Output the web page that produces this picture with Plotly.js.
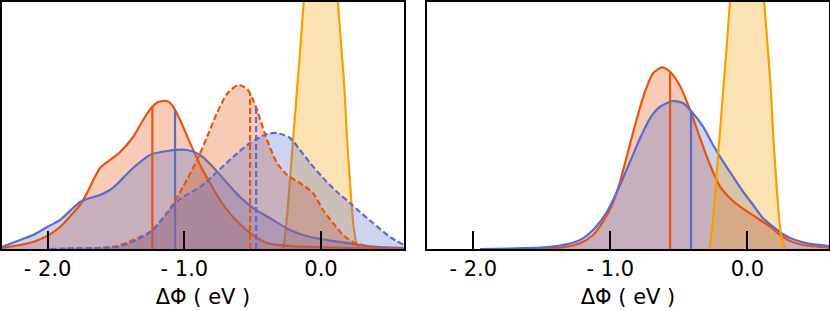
<!DOCTYPE html>
<html>
<head>
<meta charset="utf-8">
<script src="https://cdn.plot.ly/plotly-3.0.1.min.js"></script>
<style>
html,body{margin:0;padding:0;background:#fff;}
#chart{width:830px;height:311px;}
</style>
</head>
<body>
<div id="chart"></div>
<script>
// ---------- data (ΔΦ in eV, density in arbitrary units) ----------
// Left panel
const leftSolidOrangeX = [-2.334,-2.202,-2.107,-2.004,-1.909,-1.814,-1.763,-1.712,-1.617,-1.544,-1.470,-1.375,-1.302,-1.236,-1.192,-1.127,-1.090,-1.031,-0.958,-0.885,-0.812,-0.739,-0.644,-0.519,-0.395,-0.227,-0.029,0.212,0.607];
const leftSolidOrangeY = [0.01,0.04,0.07,0.13,0.22,0.36,0.44,0.56,0.81,0.89,0.97,1.12,1.29,1.42,1.47,1.48,1.44,1.29,1.06,0.84,0.66,0.49,0.32,0.16,0.06,0.03,0.02,0.01,0.005];

const leftSolidBlueX = [-2.334,-2.202,-2.107,-2.004,-1.909,-1.814,-1.763,-1.712,-1.617,-1.544,-1.492,-1.375,-1.251,-1.127,-0.980,-0.885,-0.790,-0.688,-0.593,-0.497,-0.351,-0.227,-0.080,0.088,0.337,0.607];
const leftSolidBlueY = [0.02,0.09,0.14,0.22,0.29,0.41,0.47,0.50,0.54,0.59,0.65,0.81,0.94,0.98,0.99,0.94,0.82,0.66,0.52,0.41,0.29,0.19,0.12,0.08,0.03,0.01];

const leftDashOrangeX = [-1.858,-1.617,-1.492,-1.375,-1.251,-1.127,-1.010,-0.907,-0.834,-0.761,-0.688,-0.607,-0.541,-0.497,-0.461,-0.395,-0.322,-0.249,-0.154,-0.059,0.015,0.088,0.161,0.234,0.380,0.607];
const leftDashOrangeY = [0.005,0.01,0.03,0.09,0.17,0.36,0.62,0.89,1.12,1.36,1.55,1.64,1.60,1.49,1.36,1.09,0.86,0.74,0.66,0.56,0.39,0.26,0.14,0.07,0.015,0.005];

const leftDashBlueX = [-1.982,-1.858,-1.617,-1.492,-1.397,-1.324,-1.229,-1.127,-1.031,-0.885,-0.761,-0.644,-0.519,-0.395,-0.322,-0.227,-0.154,-0.080,0.015,0.117,0.212,0.285,0.380,0.505,0.607];
const leftDashBlueY = [0,0.005,0.01,0.02,0.06,0.11,0.19,0.36,0.50,0.62,0.77,0.92,1.06,1.15,1.16,1.11,0.99,0.86,0.71,0.57,0.46,0.37,0.26,0.12,0.04];

// Reference (gold) distribution, same in both panels
const refX = [-0.294,-0.277,-0.265,-0.248,-0.228,-0.212,-0.194,-0.175,-0.155,-0.126,-0.090,-0.053,0.0,0.049,0.086,0.122,0.153,0.171,0.190,0.215,0.239,0.263,0.282];
const refY = [0,0.007,0.12,0.34,0.67,0.97,1.27,1.61,1.94,2.49,3.1,3.6,3.9,3.6,3.1,2.49,1.94,1.61,1.11,0.61,0.21,0.04,0];

// Right panel
const rightOrangeX = [-1.659,-1.513,-1.367,-1.221,-1.126,-1.053,-0.988,-0.929,-0.871,-0.805,-0.747,-0.688,-0.623,-0.564,-0.491,-0.418,-0.345,-0.272,-0.199,-0.126,-0.053,0.020,0.093,0.166,0.239,0.312,0.407,0.597];
const rightOrangeY = [0,0.007,0.013,0.057,0.14,0.273,0.44,0.673,0.973,1.31,1.573,1.757,1.817,1.773,1.63,1.39,1.11,0.84,0.623,0.507,0.423,0.357,0.29,0.223,0.14,0.08,0.04,0.013];

const rightBlueX = [-1.951,-1.732,-1.513,-1.367,-1.221,-1.126,-1.024,-0.929,-0.856,-0.783,-0.710,-0.637,-0.542,-0.469,-0.406,-0.323,-0.250,-0.177,-0.104,-0.031,0.042,0.115,0.188,0.261,0.334,0.436,0.597];
const rightBlueY = [0,0.005,0.013,0.033,0.09,0.19,0.373,0.64,0.873,1.107,1.307,1.423,1.48,1.457,1.373,1.223,1.04,0.873,0.723,0.573,0.44,0.307,0.223,0.147,0.097,0.057,0.03];

// Mean markers (x position, height)
const leftSolidMeanX = [-1.234, -1.068];
const leftSolidMeanTop = [1.43, 1.39];
const leftDashMeanX = [-0.519, -0.475];
const leftDashMeanTop = [1.56, 1.42];
const rightMeanX = [-0.564, -0.411];
const rightMeanTop = [1.78, 1.37];

const tickVals = [-2, -1, 0];
const tickText = ['- 2.0', '- 1.0', '0.0'];
const axisTitle = 'ΔΦ ( eV )';

// ---------- styles ----------
const ORANGE = 'rgb(230,85,13)';
const BLUE = 'rgb(92,108,204)';
const GOLD = 'rgb(245,160,0)';
const ORANGE_F = 'rgba(230,85,13,0.3)';
const BLUE_F = 'rgba(92,108,204,0.3)';
const GOLD_F = 'rgba(245,160,0,0.3)';
const DASH = '6px,3px';
const SMOOTH = 0.7;

function fillTrace(x, y, color, xa, ya) {
  return {x: x, y: y, xaxis: xa, yaxis: ya, mode: 'lines', fill: 'tozeroy',
          line: {width: 0, shape: 'spline', smoothing: SMOOTH, color: 'rgba(0,0,0,0)'},
          fillcolor: color, hoverinfo: 'skip', showlegend: false, type: 'scatter'};
}
function lineTrace(x, y, color, dash, xa, ya, shape) {
  return {x: x, y: y, xaxis: xa, yaxis: ya, mode: 'lines',
          line: {color: color, width: 2.2, dash: dash || 'solid',
                 shape: shape || 'spline', smoothing: SMOOTH},
          hoverinfo: 'skip', showlegend: false, type: 'scatter'};
}
function vline(x, top, color, dash, xa, ya) {
  return lineTrace([x, x], [0, top], color, dash, xa, ya, 'linear');
}

const traces = [];
// Left panel: reference first
traces.push(fillTrace(refX, refY, GOLD_F, 'x', 'y'));
traces.push(lineTrace(refX, refY, GOLD, null, 'x', 'y'));
// solid group
traces.push(fillTrace(leftSolidOrangeX, leftSolidOrangeY, ORANGE_F, 'x', 'y'));
traces.push(fillTrace(leftSolidBlueX, leftSolidBlueY, BLUE_F, 'x', 'y'));
traces.push(lineTrace(leftSolidOrangeX, leftSolidOrangeY, ORANGE, null, 'x', 'y'));
traces.push(lineTrace(leftSolidBlueX, leftSolidBlueY, BLUE, null, 'x', 'y'));
traces.push(vline(leftSolidMeanX[0], leftSolidMeanTop[0], ORANGE, null, 'x', 'y'));
traces.push(vline(leftSolidMeanX[1], leftSolidMeanTop[1], BLUE, null, 'x', 'y'));
// dashed group
traces.push(fillTrace(leftDashOrangeX, leftDashOrangeY, ORANGE_F, 'x', 'y'));
traces.push(fillTrace(leftDashBlueX, leftDashBlueY, BLUE_F, 'x', 'y'));
traces.push(lineTrace(leftDashOrangeX, leftDashOrangeY, ORANGE, DASH, 'x', 'y'));
traces.push(lineTrace(leftDashBlueX, leftDashBlueY, BLUE, DASH, 'x', 'y'));
traces.push(vline(leftDashMeanX[0], leftDashMeanTop[0], ORANGE, DASH, 'x', 'y'));
traces.push(vline(leftDashMeanX[1], leftDashMeanTop[1], BLUE, DASH, 'x', 'y'));

// Right panel
traces.push(fillTrace(rightOrangeX, rightOrangeY, ORANGE_F, 'x2', 'y2'));
traces.push(fillTrace(rightBlueX, rightBlueY, BLUE_F, 'x2', 'y2'));
traces.push(fillTrace(refX, refY, GOLD_F, 'x2', 'y2'));
traces.push(lineTrace(rightOrangeX, rightOrangeY, ORANGE, null, 'x2', 'y2'));
traces.push(lineTrace(rightBlueX, rightBlueY, BLUE, null, 'x2', 'y2'));
traces.push(lineTrace(refX, refY, GOLD, null, 'x2', 'y2'));
traces.push(vline(rightMeanX[0], rightMeanTop[0], ORANGE, null, 'x2', 'y2'));
traces.push(vline(rightMeanX[1], rightMeanTop[1], BLUE, null, 'x2', 'y2'));

const FONT = {family: 'DejaVu Sans', size: 21, color: '#000'};

function xAxis(domain, range, anchor) {
  return {
    domain: domain, range: range, anchor: anchor,
    showline: true, mirror: true, linecolor: '#000', linewidth: 2,
    ticks: 'inside', ticklen: 18, tickwidth: 2, tickcolor: '#000',
    tickmode: 'array', tickvals: tickVals, ticktext: tickText,
    tickfont: FONT, showgrid: false, zeroline: false,
    title: {text: axisTitle, font: FONT, standoff: 9}
  };
}
function yAxis(anchor) {
  return {
    range: [0, 2.47], anchor: anchor, domain: [0, 1],
    showline: true, mirror: true, linecolor: '#000', linewidth: 2,
    ticks: '', showticklabels: false, showgrid: false, zeroline: false
  };
}

const layout = {
  width: 830, height: 311,
  margin: {l: 0, r: 0, t: 2, b: 62, pad: 0},
  paper_bgcolor: '#fff', plot_bgcolor: '#fff',
  showlegend: false,
  font: FONT,
  xaxis: xAxis([0.00241, 0.48675], [-2.334, 0.607], 'y'),
  yaxis: yAxis('x'),
  xaxis2: xAxis([0.51446, 0.99880], [-2.338, 0.596], 'y2'),
  yaxis2: yAxis('x2')
};

Plotly.newPlot('chart', traces, layout, {staticPlot: true, displayModeBar: false});
</script>
</body>
</html>
